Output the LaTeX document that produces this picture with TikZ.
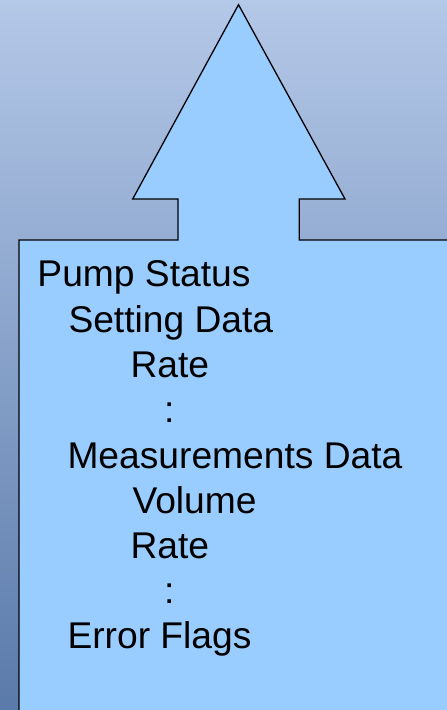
\documentclass[tikz,border=0pt]{standalone}
\usepackage{fontspec}
\setmainfont{Liberation Sans}
\definecolor{bgtop}{HTML}{B4C8E8}
\definecolor{bgmid}{HTML}{9CAED3}
\definecolor{bgbot}{HTML}{5A7AAA}
\definecolor{calloutfill}{HTML}{99CCFF}
\tikzset{
  calloutshape/.style={fill=calloutfill, draw=black, line width=1.3pt, line join=miter},
  lbl/.style={anchor=base west, inner sep=0pt, outer sep=0pt,
    font=\fontsize{37.2}{44}\selectfont, text=black}
}
\begin{document}
\begin{tikzpicture}[x=1pt, y=-1pt]
  \useasboundingbox (0,0) rectangle (447,710);
  \begin{scope}
    \clip (0,0) rectangle (447,710);
    % page background
    \shade[top color=bgtop, middle color=bgmid, bottom color=bgbot]
      (0,0) rectangle (447,710);
    % up-arrow callout
    \draw[calloutshape]
      (19,730) -- (19,240) -- (178,240) -- (178,199) -- (132.7,199)
      -- (238.5,4.7) -- (345,199) -- (299.3,199) -- (299.3,240)
      -- (470,240) -- (470,730) -- cycle;
  \end{scope}
  % tree of data items
  \node[lbl] (pump)   at (37.5,286) {Pump Status};
  \node[lbl] (set)    at (68.5,332) {Setting Data};
  \node[lbl] (srate)  at (130.5,377) {Rate};
  \node[lbl] (sdots)  at (164,422) {:};
  \node[lbl] (meas)   at (67.5,468) {Measurements Data};
  \node[lbl] (vol)    at (132.5,513) {Volume};
  \node[lbl] (mrate)  at (130.5,558) {Rate};
  \node[lbl] (mdots)  at (164,603) {:};
  \node[lbl] (err)    at (67.5,648) {Error Flags};
\end{tikzpicture}
\end{document}
